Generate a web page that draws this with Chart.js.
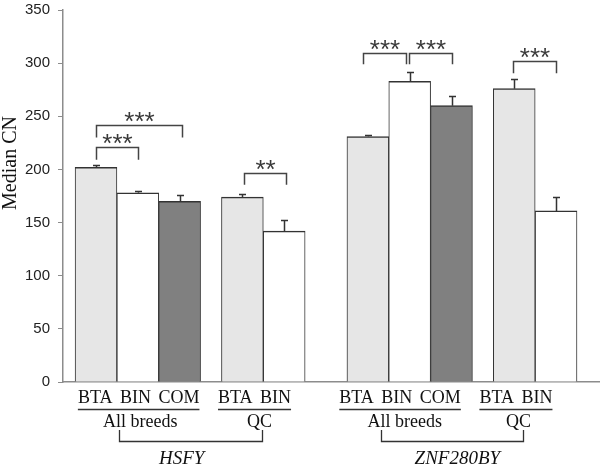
<!DOCTYPE html>
<html>
<head>
<meta charset="utf-8">
<script src="https://cdn.jsdelivr.net/npm/chart.js@4.4.1/dist/chart.umd.min.js"></script>
<style>
  html, body { margin: 0; background: #fff; }
  #wrap { width: 600px; height: 468px; position: relative; }
</style>
</head>
<body>
<div id="wrap"><canvas id="chart"></canvas></div>
<script>
(() => {
  "use strict";

  // ── Data ──────────────────────────────────────────────────────────────────
  const BAR_LABELS = ["BTA", "BIN", "COM", "BTA", "BIN", "BTA", "BIN", "COM", "BTA", "BIN"];
  const MEDIAN_CN = [202, 178, 170, 174, 142, 231, 283, 260, 276, 161];
  const ERRORS = [2, 2, 6, 3, 10, 1.5, 9, 9, 9, 13];
  const Y_TICKS = [0, 50, 100, 150, 200, 250, 300, 350];

  const GROUP_TEXT = ["BTA BIN COM", "BTA BIN", "BTA BIN COM", "BTA BIN"];
  const SUBSET_TEXT = ["All breeds", "QC", "All breeds", "QC"];
  const GENES = ["HSFY", "ZNF280BY"];

  // significance brackets: label, top of bracket, bottom of legs (Median CN)
  const SIG_LABEL = ["***", "***", "**", "***", "***", "***"];
  const SIG_TOP = [221, 241.5, 196.5, 309.5, 309.5, 302];
  const SIG_LEG = [209, 230, 185.5, 299, 299, 290.5];

  // ── Layout (x in bar-slot units, y in pixels) ─────────────────────────────
  const BAR_POS = [0, 1, 2, 3.5, 4.5, 6.5, 7.5, 8.5, 10, 11];
  const SIG_X1 = [0, 0, 3.53, 6.38, 7.48, 9.98];
  const SIG_X2 = [1, 2.05, 4.54, 7.41, 8.52, 11];
  const GROUP_X = [1.02, 3.79, 7.27, 10.04];
  const SUBSET_X = [1.06, 3.91, 7.38, 10.1];
  const GENE_BRACKET = [[0.557, 3.97], [6.82, 10.22]];
  const GENE_X = [2.05, 8.64];

  const FILL = { BTA: "#e6e6e6", BIN: "#ffffff", COM: "#808080" };
  const INK = "#333333";
  const AXIS = "#8c8c8c";
  const SERIF = "'Liberation Serif', 'Times New Roman', serif";

  const annotate = {
    id: "annotate",
    afterDatasetsDraw(chart) {
      const { ctx } = chart;
      const x = chart.scales.x;
      const y = chart.scales.y;
      const meta = chart.getDatasetMeta(0);
      ctx.save();
      ctx.strokeStyle = INK;
      ctx.lineWidth = 1.5;

      // error bars (upper only)
      meta.data.forEach((bar, i) => {
        const top = Math.round(y.getPixelForValue(MEDIAN_CN[i] + ERRORS[i])) + 0.5;
        const cx = Math.round(bar.x) + 0.5;
        ctx.beginPath();
        ctx.moveTo(cx, bar.y);
        ctx.lineTo(cx, top);
        ctx.moveTo(cx - 3.5, top);
        ctx.lineTo(cx + 3.5, top);
        ctx.stroke();
      });

      // significance brackets
      ctx.strokeStyle = "#444";
      ctx.fillStyle = "#3a3a3a";
      ctx.font = "26px 'Liberation Sans', Arial, sans-serif";
      ctx.textAlign = "center";
      ctx.textBaseline = "alphabetic";
      SIG_LABEL.forEach((lab, i) => {
        const x1 = Math.round(x.getPixelForValue(SIG_X1[i])) + 0.5;
        const x2 = Math.round(x.getPixelForValue(SIG_X2[i])) + 0.5;
        const yt = Math.round(y.getPixelForValue(SIG_TOP[i])) + 0.5;
        const yl = y.getPixelForValue(SIG_LEG[i]);
        ctx.beginPath();
        ctx.moveTo(x1, yl);
        ctx.lineTo(x1, yt);
        ctx.lineTo(x2, yt);
        ctx.lineTo(x2, yl);
        ctx.stroke();
        ctx.fillText(lab, (x1 + x2) / 2, yt + 4);
      });

      // category labels
      ctx.fillStyle = "#111";
      ctx.strokeStyle = INK;
      ctx.lineWidth = 1.3;
      ctx.font = "18px " + SERIF;
      if ("wordSpacing" in ctx) ctx.wordSpacing = "3px";
      GROUP_TEXT.forEach((t, i) => {
        const cx = x.getPixelForValue(GROUP_X[i]);
        const w = ctx.measureText(t).width;
        ctx.fillText(t, cx, 403);
        ctx.beginPath();
        ctx.moveTo(cx - w / 2, 409.5);
        ctx.lineTo(cx + w / 2, 409.5);
        ctx.stroke();
      });
      if ("wordSpacing" in ctx) ctx.wordSpacing = "0px";
      SUBSET_TEXT.forEach((t, i) => {
        ctx.fillText(t, x.getPixelForValue(SUBSET_X[i]), 427);
      });

      // gene brackets and names
      GENE_BRACKET.forEach(([a, b], i) => {
        const xa = Math.round(x.getPixelForValue(a)) + 0.5;
        const xb = Math.round(x.getPixelForValue(b)) + 0.5;
        ctx.beginPath();
        ctx.moveTo(xa, 430);
        ctx.lineTo(xa, 441.5);
        ctx.lineTo(xb, 441.5);
        ctx.lineTo(xb, 430);
        ctx.stroke();
        ctx.font = "italic 19px " + SERIF;
        ctx.fillText(GENES[i], x.getPixelForValue(GENE_X[i]), 463.5);
      });

      // y title
      ctx.translate(11, 163);
      ctx.rotate(-Math.PI / 2);
      ctx.font = "20px " + SERIF;
      ctx.textBaseline = "middle";
      ctx.fillText("Median CN", 0, 0);
      ctx.restore();
    },
  };

  function buildChart() {
    const ctx = document.getElementById("chart").getContext("2d");
    new Chart(ctx, {
      type: "bar",
      data: {
        datasets: [
          {
            label: "Median CN",
            data: BAR_POS.map((p, i) => ({ x: p, y: MEDIAN_CN[i] })),
            backgroundColor: BAR_LABELS.map((l) => FILL[l]),
            borderColor: INK,
            borderWidth: { top: 1.5, left: 1, right: 1, bottom: 0 },
            borderSkipped: "bottom",
            barPercentage: 1,
            categoryPercentage: 1,
          },
        ],
      },
      options: {
        responsive: true,
        maintainAspectRatio: false,
        animation: false,
        devicePixelRatio: 1,
        layout: { padding: { top: 10, bottom: 86, left: 0, right: 0 } },
        plugins: {
          legend: { display: false },
          tooltip: { enabled: false },
        },
        scales: {
          x: {
            type: "linear",
            offset: false,
            min: -0.789,
            max: 12.05,
            grid: { display: false },
            ticks: { display: false },
            border: { display: true, color: AXIS, width: 1.5 },
            afterBuildTicks: (s) => {
              s.ticks = BAR_POS.map((v) => ({ value: v }));
            },
            afterFit: (s) => {
              s.height = 0;
              s.paddingLeft = 0;
              s.paddingRight = 0;
            },
          },
          y: {
            min: 0,
            max: 350,
            afterBuildTicks: (s) => {
              s.ticks = Y_TICKS.map((v) => ({ value: v }));
            },
            ticks: {
              padding: 8,
              color: "#222",
              font: { family: "'Liberation Sans', Arial, sans-serif", size: 15 },
            },
            grid: { drawOnChartArea: false, tickLength: 5, color: AXIS },
            border: { display: true, color: AXIS, width: 1.5 },
            afterFit: (s) => {
              s.width = 63;
              s.paddingTop = 0;
              s.paddingBottom = 0;
            },
          },
        },
      },
      plugins: [annotate],
    });
  }

  document.addEventListener("DOMContentLoaded", buildChart);
})();
</script>
</body>
</html>
